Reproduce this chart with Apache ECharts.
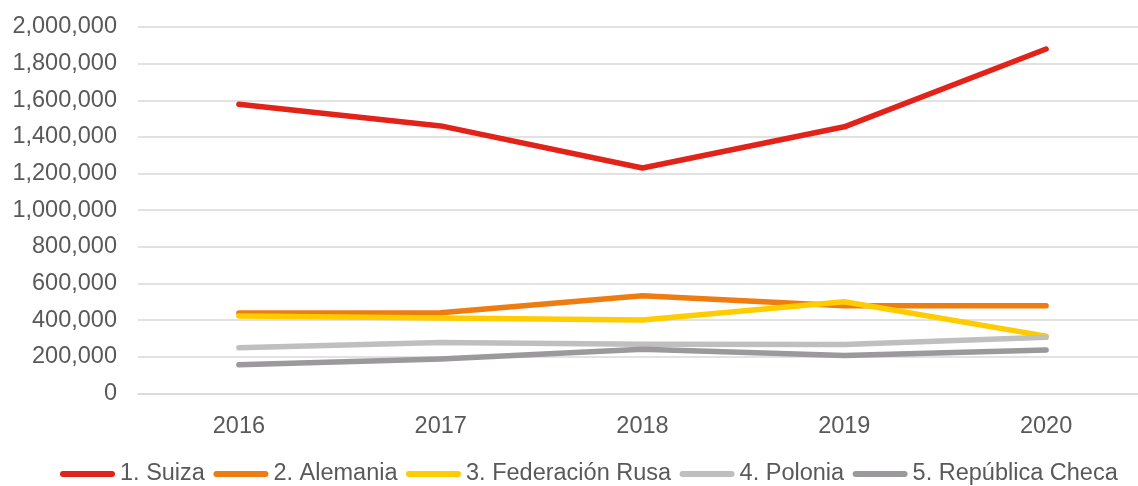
<!DOCTYPE html>
<html>
<head>
<meta charset="utf-8">
<script src="https://cdn.jsdelivr.net/npm/echarts@6/dist/echarts.min.js"></script>
<style>
  html, body { margin: 0; padding: 0; background: #fff; }
  #chart { width: 1138px; height: 486px; }
</style>
</head>
<body>
<div id="chart"></div>
<script>
var years = ['2016', '2017', '2018', '2019', '2020']
var suiza = [1578000, 1460000, 1230000, 1455000, 1880000]
var alemania = [438000, 440000, 532000, 478000, 478000]
var rusa = [422000, 411000, 400000, 500000, 312000]
var polonia = [249000, 278000, 268000, 267000, 306000]
var checa = [156000, 187000, 240000, 207000, 236000]
var names = ['1. Suiza', '2. Alemania', '3. Federación Rusa', '4. Polonia', '5. República Checa']
var colors = ['#E2231A', '#EE7D11', '#FFCC00', '#C0BFBF', '#9B999B']

var chart = echarts.init(document.getElementById('chart'))
var allData = [suiza, alemania, rusa, polonia, checa]
var series = allData.map(function (d, i) {
    return {
        name: names[i],
        type: 'line',
        data: d,
        symbol: 'none',
        lineStyle: { width: 5.5, color: colors[i], cap: 'round', join: 'round' },
        itemStyle: { color: colors[i] }
    }
})

// legend icon: rounded bar
var barIcon = 'path://M3,0 H52 A3,3 0 0 1 52,6 H3 A3,3 0 0 1 3,0 Z'

chart.setOption({
    animation: false,
    textStyle: { fontFamily: 'Liberation Sans, Arial, sans-serif' },
    grid: { left: 138, width: 1009, top: 27, height: 366.3, outerBoundsMode: 'none' },
    legend: {
        left: 60,
        top: 462,
        padding: 0,
        icon: barIcon,
        itemWidth: 55,
        itemHeight: 6,
        itemGap: 8.5,
        textStyle: { fontSize: 23.5, color: '#595959' },
        data: names
    },
    xAxis: {
        type: 'category',
        data: years,
        boundaryGap: true,
        axisLine: { lineStyle: { color: '#D9D9D9', width: 1.5 } },
        axisTick: { show: false },
        axisLabel: { fontSize: 23.5, color: '#595959', margin: 21 }
    },
    yAxis: {
        type: 'value',
        min: 0,
        max: 2000000,
        interval: 200000,
        axisLine: { show: false },
        axisTick: { show: false },
        splitLine: { lineStyle: { color: '#D9D9D9', width: 1.5 } },
        axisLabel: {
            fontSize: 23.5,
            color: '#595959',
            margin: 21,
            formatter: function (v) { return v.toLocaleString('en-US') }
        }
    },
    series: series
})
</script>
</body>
</html>
